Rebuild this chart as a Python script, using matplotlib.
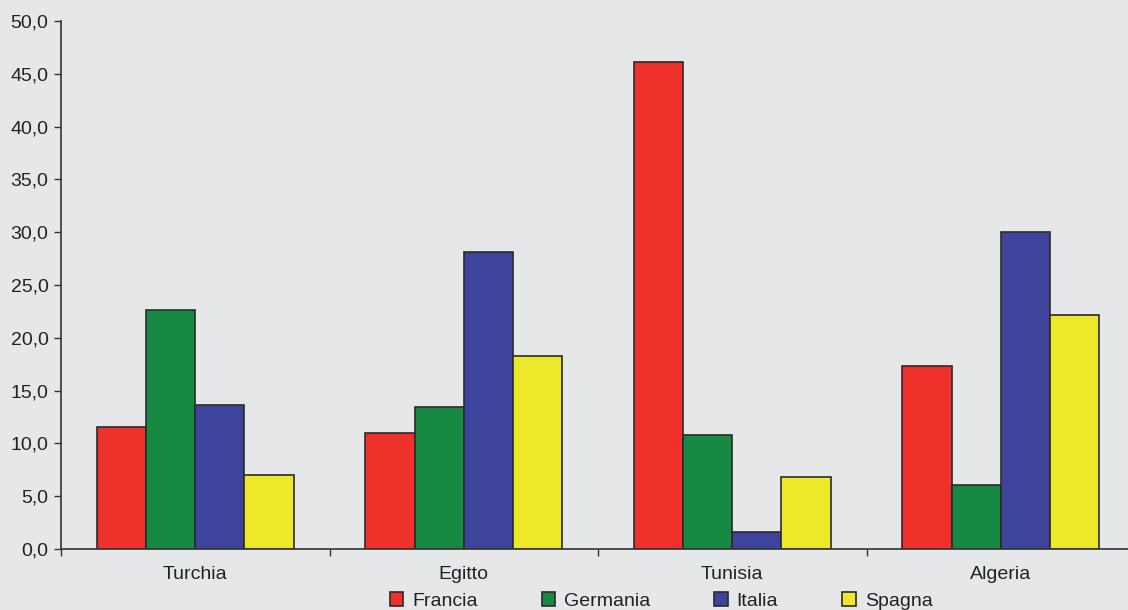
import numpy as np
import matplotlib
matplotlib.use("Agg")
import matplotlib.pyplot as plt
from matplotlib.ticker import FuncFormatter, MultipleLocator

# Data
countries = ["Turchia", "Egitto", "Tunisia", "Algeria"]
series_names = ["Francia", "Germania", "Italia", "Spagna"]
francia = [11.6, 11.0, 46.1, 17.3]
germania = [22.6, 13.4, 10.8, 6.1]
italia = [13.6, 28.1, 1.6, 30.0]
spagna = [7.0, 18.3, 6.8, 22.2]

colors = ["#EE312B", "#188943", "#3E449B", "#EEE82A"]
BG = "#E6E7E9"
FS = 14

plt.rcParams["font.family"] = ["Liberation Sans", "DejaVu Sans"]

fig = plt.figure(figsize=(11.28, 6.10), dpi=100, facecolor=BG)
W, H = 1128, 610
ax = fig.add_axes([61 / W, 61 / H, (W - 61) / W, 528 / H])
ax.set_facecolor(BG)

x = np.arange(len(countries))
bw = 0.183
for k, (vals, name) in enumerate(zip([francia, germania, italia, spagna], series_names)):
    ax.bar(x + (k - 1.5) * bw, vals, width=bw, color=colors[k],
           edgecolor="#2b2b2b", linewidth=1.2, label=name)

ax.yaxis.set_major_locator(MultipleLocator(5))
ax.yaxis.set_major_formatter(FuncFormatter(lambda v, p: f"{v:.1f}".replace(".", ",")))

ax.set_xticks(x)
ax.set_xticklabels(countries)
ax.set_xticks(np.arange(-0.5, 4.0, 1.0), minor=True)
# limits after ticks, otherwise set_xticks widens the view
ax.set_ylim(0, 50)
ax.set_xlim(-0.5, -0.5 + (W - 61) / 268.5)

ax.tick_params(axis="x", which="major", length=0, pad=12, labelsize=FS, colors="#222222")
ax.tick_params(axis="x", which="minor", length=5, width=1, color="#333333", direction="out")
ax.tick_params(axis="y", length=5, width=1, color="#333333", labelsize=FS,
               labelcolor="#222222", pad=4)

for side in ["top", "right"]:
    ax.spines[side].set_visible(False)
for side in ["left", "bottom"]:
    ax.spines[side].set_color("#333333")
    ax.spines[side].set_linewidth(1.2)

leg = fig.legend(loc="center", bbox_to_anchor=(0.586, 9 / H), ncol=4, frameon=False,
                 fontsize=FS, handlelength=0.7, handleheight=0.7, handletextpad=0.45,
                 columnspacing=3.3, borderaxespad=0)
for t in leg.get_texts():
    t.set_color("#222222")

fig.savefig("out.png", dpi=100, facecolor=BG)
